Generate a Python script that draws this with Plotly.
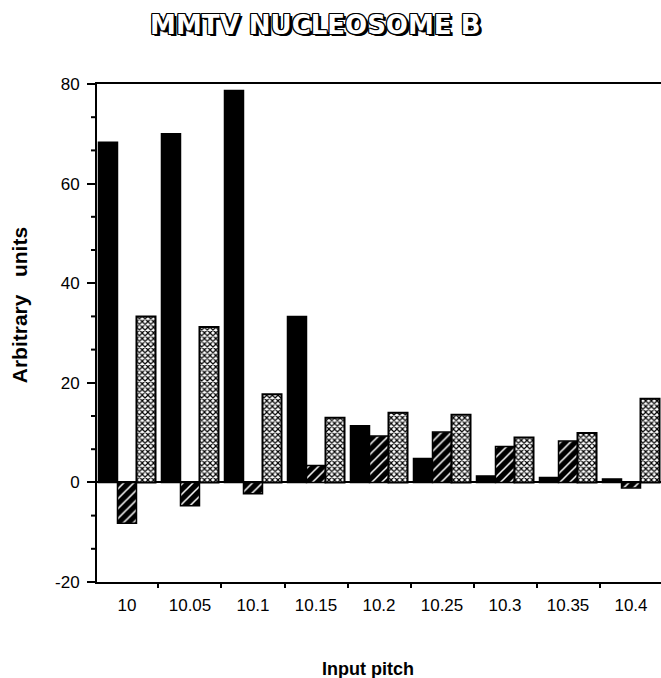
import plotly.graph_objects as go

categories = ["10", "10.05", "10.1", "10.15", "10.2", "10.25", "10.3", "10.35", "10.4"]
solid_vals = [68.3, 70.0, 78.7, 33.3, 11.4, 4.8, 1.3, 1.0, 0.7]
hatched_vals = [-8.2, -4.7, -2.3, 3.4, 9.3, 10.1, 7.2, 8.3, -1.1]
stippled_vals = [33.3, 31.2, 17.7, 13.0, 14.0, 13.6, 9.0, 9.9, 16.8]
y_ticks = [-20, 0, 20, 40, 60, 80]
y_ticktext = ["-20", "0", "20", "40", "60", "80"]

y_min, y_max = y_ticks[0], y_ticks[-1]
# the original axis has two unlabelled ticks between each labelled tick
n_sub = 3
minor_vals = []
for i in range(len(y_ticks) - 1):
    step = (y_ticks[i + 1] - y_ticks[i]) / n_sub
    for k in range(1, n_sub):
        minor_vals.append(y_ticks[i] + k * step)

plot_w = 661 - 97
minor_len_px = 6

fig = go.Figure()
fig.add_trace(go.Bar(
    x=categories, y=solid_vals, name="solid",
    marker=dict(color="black", line=dict(color="black", width=1.5)),
))
fig.add_trace(go.Bar(
    x=categories, y=hatched_vals, name="hatched",
    marker=dict(color="black", line=dict(color="black", width=1.5),
                pattern=dict(shape="/", fgcolor="white", bgcolor="black",
                             size=7, solidity=0.22, fillmode="replace")),
))
fig.add_trace(go.Bar(
    x=categories, y=stippled_vals, name="stippled",
    marker=dict(color="white", line=dict(color="black", width=2),
                pattern=dict(shape="x", fgcolor="black", bgcolor="white",
                             size=4, solidity=0.5, fillmode="replace")),
))

shapes = [
    dict(type="line", xref="paper", yref="y",
         x0=-minor_len_px / plot_w, x1=0, y0=v, y1=v,
         line=dict(color="black", width=2), layer="above")
    for v in minor_vals
]

fig.update_layout(
    width=661, height=678,
    margin=dict(l=97, r=0, t=84, b=96),
    paper_bgcolor="white", plot_bgcolor="white",
    barmode="group", bargap=0.095, bargroupgap=0,
    showlegend=False,
    font=dict(family="Liberation Sans, Arial, sans-serif", color="black"),
    title=dict(
        text="MMTV NUCLEOSOME B",
        x=0.477, xanchor="center", y=0.964, yanchor="middle",
        font=dict(family="DejaVu Sans", size=26, color="white", weight="bold",
                  shadow="-1px -1px 0 #000, 1px -1px 0 #000, -1px 1px 0 #000, 1px 1px 0 #000, 0 1px 0 #000, 1px 0 0 #000, -1px 0 0 #000, 0 -1px 0 #000, 2px 2px 0 #000, 3px 2px 0 #000"),
    ),
    xaxis=dict(
        type="category", range=[-0.476, 8.476],
        showline=True, linecolor="black", linewidth=2, mirror=True,
        ticks="outside", tickson="boundaries", ticklen=4, tickwidth=2, tickcolor="black",
        ticklabelstandoff=7,
        tickfont=dict(size=17, color="black"),
        showgrid=False, zeroline=False,
    ),
    yaxis=dict(
        range=[y_min, y_max], tickmode="array", tickvals=y_ticks, ticktext=y_ticktext,
        showline=True, linecolor="black", linewidth=2,
        ticks="outside", ticklen=8, tickwidth=2, tickcolor="black",
        ticklabelstandoff=4,
        tickfont=dict(size=17, color="black"),
        showgrid=False,
        zeroline=True, zerolinecolor="black", zerolinewidth=2,
    ),
    shapes=shapes,
    annotations=[
        dict(text="<b>Arbitrary&nbsp;&nbsp;&nbsp;units</b>", textangle=-90,
             xref="paper", yref="paper", x=-0.138, y=0.556,
             xanchor="center", yanchor="middle", showarrow=False,
             font=dict(size=21, color="black")),
        dict(text="<b>Input pitch</b>",
             xref="paper", yref="paper", x=0.48, y=-0.175,
             xanchor="center", yanchor="middle", showarrow=False,
             font=dict(size=18, color="black")),
    ],
)

fig.write_html("out.html")
